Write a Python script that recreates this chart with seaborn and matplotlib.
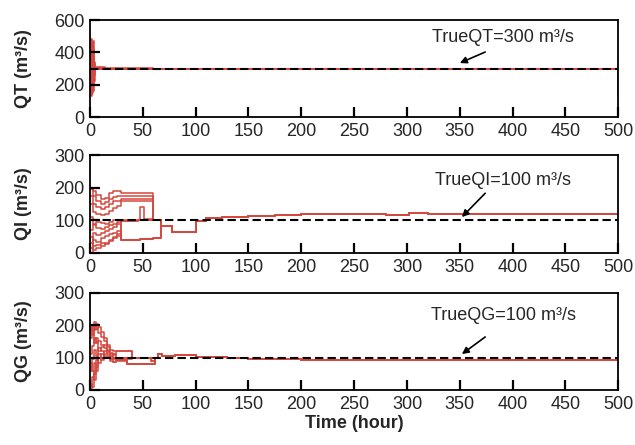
import pandas as pd
import numpy as np
import matplotlib.pyplot as plt
import seaborn as sns

# =========================
# Data
# =========================
# QT ensemble (step values, m3/s)
qt_t = [0, 1, 2, 3, 4, 5, 9, 14, 25, 60, 70, 500]
qt_runs = [
    [300, 480, 150, 420, 260, 305, 310, 302, 298, 295, 300, 130],
    [250, 140, 460, 200, 340, 300, 305, 300, 300, 300, 300, 300],
    [350, 420, 230, 380, 280, 310, 300, 298, 302, 300, 300, 300],
    [200, 300, 380, 160, 330, 295, 302, 300, 300, 298, 300, 300],
    [300, 130, 300, 470, 220, 300, 300, 300, 300, 300, 300, 300],
]

# QI ensemble, early part (runs differ) + shared tail
qi_t = [0, 3, 6, 10, 14, 18, 22, 26, 29, 45, 47, 51, 60, 63, 67, 78, 100, 110]
qi_runs = [
    [200, 190, 178, 165, 170, 185, 190, 190, 185, 185, 185, 185, 100, 100, 83, 65, 97, 108],
    [195, 175, 160, 150, 155, 165, 172, 175, 175, 175, 175, 175, 100, 100, 83, 65, 97, 108],
    [175, 150, 140, 135, 140, 150, 158, 160, 165, 165, 165, 165, 100, 100, 83, 65, 97, 108],
    [150, 125, 120, 115, 120, 130, 138, 145, 160, 160, 160, 160, 100, 100, 83, 65, 97, 108],
    [110, 85, 95, 92, 88, 96, 100, 102, 100, 100, 140, 105, 100, 100, 83, 65, 97, 108],
    [70, 90, 78, 72, 80, 86, 90, 95, 98, 100, 100, 100, 100, 100, 83, 65, 97, 108],
    [30, 60, 55, 62, 68, 75, 80, 88, 40, 40, 42, 44, 45, 45, 83, 65, 97, 108],
    [15, 40, 35, 45, 52, 58, 62, 68, 40, 40, 42, 44, 45, 45, 83, 65, 97, 108],
    [0, 20, 25, 30, 28, 36, 45, 52, 98, 100, 100, 100, 100, 100, 83, 65, 97, 108],
    [50, 10, 15, 22, 30, 40, 50, 58, 40, 40, 42, 44, 45, 45, 83, 65, 97, 108],
]
qi_tail_t = [125, 150, 175, 200, 240, 280, 302, 320, 400, 500]
qi_tail_v = [110, 113, 117, 119, 120, 117, 121, 120, 120, 119]

# QG ensemble, early part + shared tail
qg_t = [0, 2, 4, 6, 8, 10, 13, 16, 19, 22, 25, 35, 40, 58, 62, 64, 68, 80, 95, 100]
qg_runs = [
    [200, 170, 210, 190, 195, 180, 160, 140, 125, 120, 120, 120, 100, 90, 100, 112, 105, 108, 108, 103],
    [160, 195, 185, 205, 175, 165, 150, 132, 115, 108, 120, 120, 100, 90, 100, 112, 105, 108, 108, 103],
    [110, 135, 160, 145, 150, 140, 130, 122, 112, 100, 92, 80, 80, 80, 100, 112, 105, 108, 108, 103],
    [60, 95, 125, 105, 130, 122, 112, 125, 102, 95, 90, 80, 80, 80, 100, 112, 105, 108, 108, 103],
    [0, 40, 85, 60, 110, 100, 120, 110, 95, 88, 92, 80, 80, 80, 100, 112, 105, 108, 108, 103],
    [20, 10, 50, 92, 82, 112, 100, 102, 90, 86, 95, 95, 100, 100, 100, 112, 105, 108, 108, 103],
    [185, 200, 145, 160, 122, 132, 140, 116, 106, 110, 100, 100, 100, 100, 100, 112, 105, 108, 108, 103],
    [85, 60, 30, 72, 100, 92, 106, 104, 96, 100, 100, 100, 100, 100, 100, 112, 105, 108, 108, 103],
]
qg_tail_t = [110, 130, 150, 200, 250, 300, 400, 500]
qg_tail_v = [101, 98, 95, 94, 94, 93, 94, 94]

true_vals = [300, 100, 100]
true_names = ["TrueQT", "TrueQI", "TrueQG"]
y_labels = ["QT (m³/s)", "QI (m³/s)", "QG (m³/s)"]
y_max = [600, 300, 300]
y_ticks = [[0, 200, 400, 600], [0, 100, 200, 300], [0, 100, 200, 300]]
x_ticks = list(range(0, 501, 50))


def to_long(t, runs, tail_t=None, tail_v=None):
    frames = []
    for i, run in enumerate(runs):
        tt = list(t) + list(tail_t or [])
        vv = list(run) + list(tail_v or [])
        frames.append(pd.DataFrame({"time": tt, "flow": vv, "run": i}))
    return pd.concat(frames, ignore_index=True)


data = [
    to_long(qt_t, qt_runs),
    to_long(qi_t, qi_runs, qi_tail_t, qi_tail_v),
    to_long(qg_t, qg_runs, qg_tail_t, qg_tail_v),
]

# =========================
# Plot
# =========================
sns.set_style("ticks")
plt.rcParams["font.family"] = ["Liberation Sans", "DejaVu Sans"]
plt.rcParams["font.size"] = 13

red = "#d4483f"
fig = plt.figure(figsize=(6.35, 4.45), dpi=100)
bottoms = [0.737, 0.4315, 0.1236]
heights = [0.218, 0.220, 0.218]

# annotation positions (data coords): text centre, arrow start, arrow tip
text_y = [495, 223, 229]
arrow_start = [(374, 402), (374, 183), (374, 164)]
arrow_tip = [(350, 334), (352, 110), (352, 111)]

for k in range(3):
    ax = fig.add_axes([0.1417, bottoms[k], 0.832, heights[k]])
    sns.lineplot(data=data[k], x="time", y="flow", units="run", estimator=None,
                 color=red, lw=1.1, drawstyle="steps-post", legend=False, ax=ax)
    ax.axhline(true_vals[k], color="black", lw=1.5, ls=(0, (4, 2)), zorder=3)

    ax.set_xlim(0, 500)
    ax.set_ylim(0, y_max[k])
    ax.set_xticks(x_ticks)
    ax.set_yticks(y_ticks[k])
    for s in ax.spines.values():
        s.set_linewidth(1.3)
        s.set_color("black")
        s.set_visible(True)

    ax.set_xlabel("")
    ax.set_ylabel(y_labels[k], fontweight="bold", fontsize=13)
    ax.yaxis.set_label_coords(-0.11, 0.5)

    ax.text(391, text_y[k], f"{true_names[k]}={true_vals[k]} m³/s",
            ha="center", va="center", fontsize=13)
    ax.annotate("", xy=arrow_tip[k], xytext=arrow_start[k],
                arrowprops=dict(arrowstyle="-|>", color="black", lw=1.2,
                                mutation_scale=10, shrinkA=0, shrinkB=0))

    if k == 2:
        ax.set_xlabel("Time (hour)", fontweight="bold", fontsize=13, labelpad=2)

    # ticks: inward, bottom and left only, drawn above the lines
    ax.set_axisbelow(False)
    ax.minorticks_off()
    ax.tick_params(which="major", direction="in", length=7, width=1.6, pad=4,
                   bottom=True, left=True, top=False, right=False,
                   labelsize=13, color="black")

plt.savefig("out.png", dpi=100)
